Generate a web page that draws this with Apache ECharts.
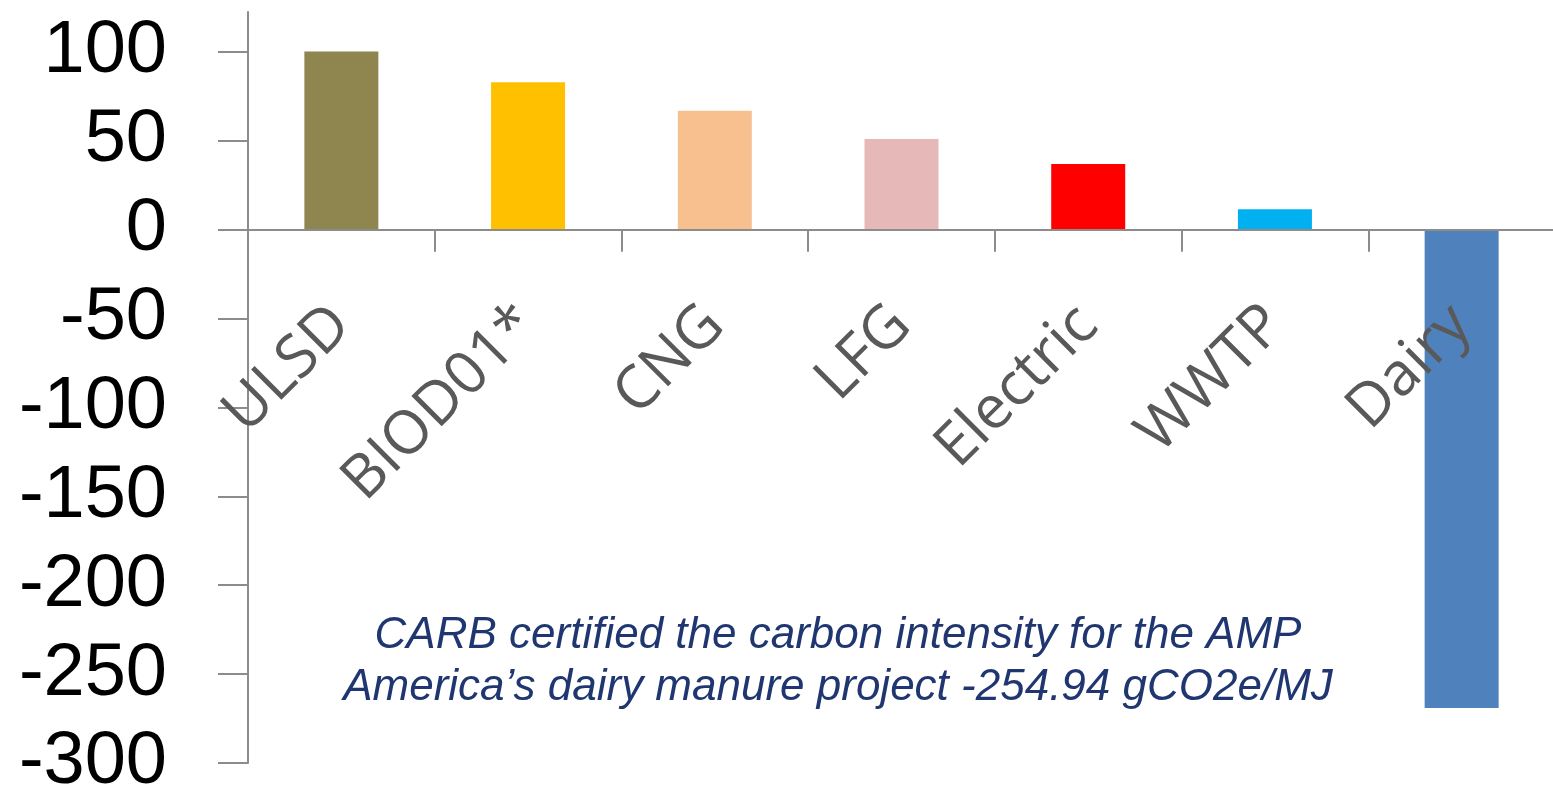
<!DOCTYPE html>
<html>
<head>
<meta charset="utf-8">
<script src="https://cdn.jsdelivr.net/npm/echarts@6.0.0/dist/echarts.min.js"></script>
<style>
  html, body { margin: 0; padding: 0; background: #ffffff; }
  #chart { width: 1553px; height: 791px; }
</style>
</head>
<body>
<div id="chart"></div>
<script>
const categories = ['ULSD', 'BIOD01*', 'CNG', 'LFG', 'Electric', 'WWTP', 'Dairy'];
const values = [100.3, 83, 67, 51, 37, 11.5, -269];
const barColors = ['#8F864F', '#FFC000', '#F8BF8F', '#E6B8B7', '#FF0000', '#00B0F0', '#4F81BD'];
const yTickValues = [-300, -250, -200, -150, -100, -50, 0, 50, 100];
const noteLines = [
  'CARB certified the carbon intensity for the AMP',
  'America\u2019s dairy manure project -254.94 gCO2e/MJ'
];

const axisGrey = '#8C8C8C';
const gridTop = 12, gridBottom = 28, chartHeight = 791;

const chart = echarts.init(document.getElementById('chart'), null, { renderer: 'canvas' });
chart.setOption({
  animation: false,
  backgroundColor: '#ffffff',
  grid: { left: 248, right: -2, top: gridTop, bottom: gridBottom, containLabel: false, outerBoundsMode: 'none' },
  xAxis: {
    type: 'category',
    data: categories,
    offset: 0,
    z: 5,
    axisLine: { onZero: false, lineStyle: { color: axisGrey, width: 2 } },
    axisTick: { show: true, interval: 0, length: 22, lineStyle: { color: axisGrey, width: 2 } },
    axisLabel: {
      interval: 0,
      rotate: 45,
      margin: 86,
      color: '#595959',
      fontSize: 60,
      fontFamily: 'Open Sans',
      hideOverlap: false
    },
    splitLine: { show: false }
  },
  yAxis: {
    type: 'value',
    min: -300,
    max: 122.5,
    interval: 50,
    axisLine: { show: true, lineStyle: { color: axisGrey, width: 2 } },
    axisTick: { show: true, length: 30, customValues: yTickValues, lineStyle: { color: axisGrey, width: 2 } },
    axisLabel: {
      customValues: yTickValues,
      showMinLabel: true,
      hideOverlap: false,
      margin: 81,
      color: '#000000',
      fontSize: 74,
      fontFamily: 'Liberation Sans'
    },
    splitLine: { show: false }
  },
  series: [{
    type: 'bar',
    barWidth: 74,
    data: values.map((v, i) => ({ value: v, itemStyle: { color: barColors[i] } }))
  }],
  graphic: [{
    type: 'text',
    x: 838,
    y: 610,
    style: {
      text: noteLines.join('\n'),
      fill: '#1F3670',
      font: 'italic 44px "Liberation Sans"',
      textAlign: 'center',
      textVerticalAlign: 'top',
      lineHeight: 52
    }
  }]
});

// Move the category axis (line, ticks, labels) up to the value-axis zero line.
const zeroY = chart.convertToPixel({ yAxisIndex: 0 }, 0);
const bottomY = chartHeight - gridBottom;
chart.setOption({ xAxis: { offset: -(bottomY - zeroY) } });
</script>
</body>
</html>
